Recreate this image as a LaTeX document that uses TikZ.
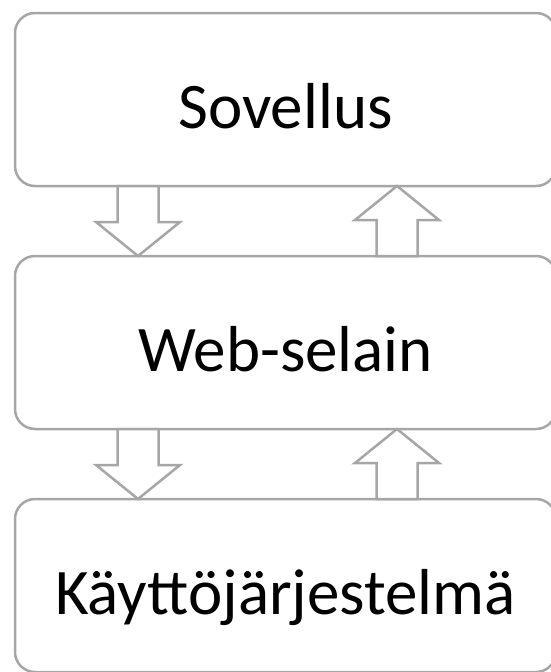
\documentclass[tikz,border=0pt]{standalone}
\usepackage{fontspec}
\setmainfont{Carlito}
\usetikzlibrary{positioning}
\definecolor{linegray}{RGB}{166,166,166}

\begin{document}
\begin{tikzpicture}[x=1pt,y=1pt,
    layerbox/.style={draw=linegray,line width=2.5pt,rounded corners=20pt,outer sep=0pt,
        minimum width=541pt,minimum height=173pt,inner sep=0pt,text height=57pt,text depth=0pt,font=\layerfontsize},
    blockarrow/.style={draw=linegray,line width=2.5pt,fill=white,line join=miter}]
    \pgfmathsetmacro{\shafthalf}{20.5}
    \pgfmathsetmacro{\headextend}{21.5}
    \pgfmathsetmacro{\headlength}{34}
    \pgfmathsetmacro{\shaftlength}{36}
    \providecommand{\layerfontsize}{\fontsize{65pt}{70pt}\selectfont}
    \useasboundingbox (0,0) rectangle (550,-672);
    \node[layerbox] (app) at (285.5,-99.5) {Sovellus};
    \node[layerbox,below=70pt of app] (browser) {Web-selain};
    \node[layerbox,below=70pt of browser] (os) {Käyttöjärjestelmä};
    \foreach \upper/\lower in {app/browser,browser/os}{
        \coordinate (down) at ([xshift=123pt]\upper.south west);
        \coordinate (downtip) at (down |- \lower.north);
        \draw[blockarrow] ([xshift=-\shafthalf pt]down) -- ++(0,-\shaftlength) -- ++(-\headextend,0) -- (downtip)
            -- ++(\shafthalf+\headextend,\headlength) -- ++(-\headextend,0) -- ([xshift=\shafthalf pt]down) -- cycle;
        \coordinate (up) at ([xshift=382pt]\lower.north west);
        \coordinate (uptip) at (up |- \upper.south);
        \draw[blockarrow] ([xshift=-\shafthalf pt]up) -- ++(0,\shaftlength) -- ++(-\headextend,0) -- (uptip)
            -- ++(\shafthalf+\headextend,-\headlength) -- ++(-\headextend,0) -- ([xshift=\shafthalf pt]up) -- cycle;
    }
\end{tikzpicture}
\end{document}
